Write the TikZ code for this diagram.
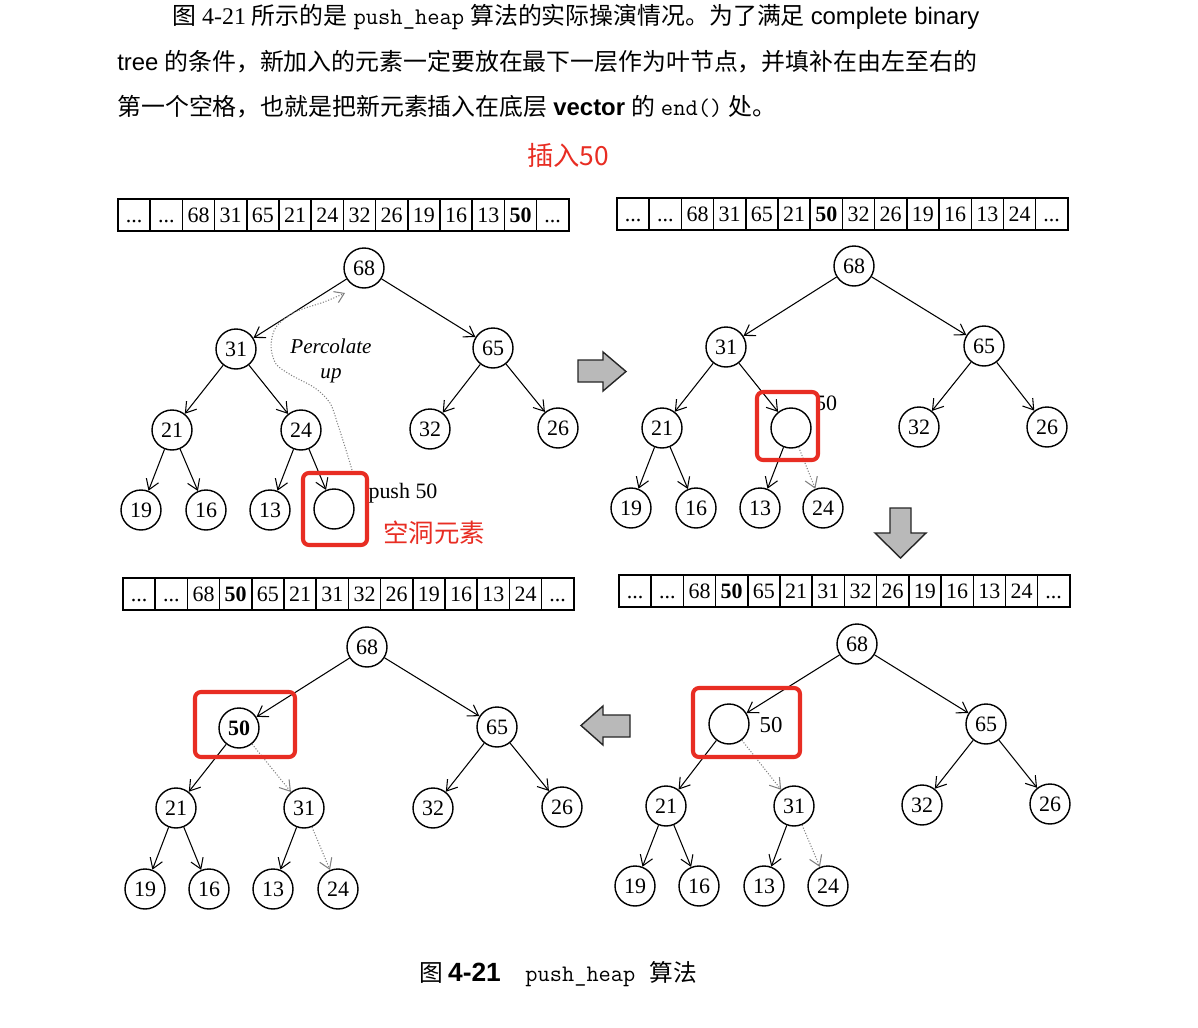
\documentclass[tikz,border=0pt]{standalone}
\usepackage{fontspec}
\setmainfont{Liberation Serif}
\setsansfont{Liberation Sans}
\newfontfamily\cjk{Noto Sans CJK SC}
\usetikzlibrary{arrows.meta,positioning}
\definecolor{markred}{RGB}{232,45,35}
\newcommand{\skipcell}{...}

\begin{document}
\begin{tikzpicture}[x=0.02cm,y=-0.02cm]
  \tikzset{heapnode/.style = {shape=circle,draw,line width=0.8pt,minimum size=0.8cm,inner sep=0pt,font=\fontsize{12.5}{12.5}\selectfont}}
  \tikzset{cell/.style = {draw,line width=0.8pt,minimum width=0.644cm,minimum height=0.64cm,inner sep=0pt,text height=8.6pt,text depth=0.4pt,font=\fontsize{12.5}{12.5}\selectfont}}
  \tikzset{edge/.style = {-{Straight Barb[length=2mm,width=2.6mm]},line width=0.6pt}}
  \tikzset{moveedge/.style = {edge,gray,densely dotted}}
  \tikzset{redbox/.style = {draw=markred,line width=2.3pt,rounded corners=0.12cm}}
  \tikzset{bigarrow/.style = {draw=black!85,line width=0.8pt,fill=gray!55}}
  \tikzset{textline/.style = {anchor=west,inner sep=0pt,font=\fontsize{13.6}{16}\selectfont}}

  \fill[white] (0,0) rectangle (1198,1028);
  \useasboundingbox (0,0) rectangle (1198,1028);

  % paragraph above the figure
  \node[textline] (line1) at (172,17) {{\cjk 图} 4-21 {\cjk 所示的是} \texttt{push\_heap} {\cjk 算法的实际操演情况。为了满足} \textsf{complete binary}};
  \node[textline] (line2) at (117,62) {\textsf{tree} {\cjk 的条件，新加入的元素一定要放在最下一层作为叶节点，并填补在由左至右的}};
  \node[textline] (line3) at (117,107) {{\cjk 第一个空格，也就是把新元素插入在底层} \textsf{\textbf{vector}} {\cjk 的} \texttt{end()} {\cjk 处。}};

  \node[text=markred,font=\cjk\fontsize{15}{15}\selectfont] (insert) at (568,155) {插入50};

  % the four vectors
  \foreach \v [count=\k] in {\skipcell,\skipcell,68,31,65,21,24,32,26,19,16,13,\textbf{50},\skipcell}
    \node[cell] (va\k) at (118+32.2*\k-16.1,215) {\v};
  \foreach \v [count=\k] in {\skipcell,\skipcell,68,31,65,21,\textbf{50},32,26,19,16,13,24,\skipcell}
    \node[cell] (vb\k) at (617+32.2*\k-16.1,214) {\v};
  \foreach \v [count=\k] in {\skipcell,\skipcell,68,\textbf{50},65,21,31,32,26,19,16,13,24,\skipcell}
    \node[cell] (vc\k) at (123+32.2*\k-16.1,594) {\v};
  \foreach \v [count=\k] in {\skipcell,\skipcell,68,\textbf{50},65,21,31,32,26,19,16,13,24,\skipcell}
    \node[cell] (vd\k) at (619+32.2*\k-16.1,591) {\v};

  % tree 1: new element at the end
  \begin{scope}[shift={(364,268)}]
    \foreach \i/\x/\y/\v in {0/0/0/68, 1/-128/81/31, 2/129/80/65, 3/-192/162/21, 4/-63/162/24, 5/66/161/32, 6/194/160/26, 7/-223/242/19, 8/-158/242/16, 9/-94/242/13, 10/-30/241/{}}
      \node[heapnode] (a\i) at (\x,\y) {\v};
  \end{scope}
  \foreach \from/\to in {0/1,0/2,1/3,1/4,2/5,2/6,3/7,3/8,4/9,4/10}
    \draw[edge] (a\from) -- (a\to);
  \node[font=\fontsize{12.5}{12.5}\selectfont] (push) at (403,493) {push 50};
  \node[font=\itshape\fontsize{12}{14.7}\selectfont,align=center] (perc) at (331,361) {Percolate\\up};
  \coordinate (percstart) at (352,470);
  \draw[gray,densely dotted,line width=0.6pt,-{Straight Barb[length=1.8mm,width=2.4mm]}] plot[smooth] coordinates {(percstart) (346,450) (338,425) (330,403) (315,388) (291,375) (276,364) (271,346) (276,327) (295,312) (324,302) (345,293)};
  \draw[redbox] (303,473) rectangle (367,545);
  \node[text=markred,font=\cjk\fontsize{14.5}{14.5}\selectfont] (holetext) at (434,533) {空洞元素};

  \draw[bigarrow] (578,360) -- (603,360) -- (603,352) -- (626,371.5) -- (603,391) -- (603,382) -- (578,382) -- cycle;

  % tree 2: hole moved up one level
  \begin{scope}[shift={(854,266)}]
    \foreach \i/\x/\y/\v in {0/0/0/68, 1/-128/81/31, 2/130/80/65, 3/-192/162/21, 4/-63/162/{}, 5/65/161/32, 6/193/161/26, 7/-223/242/19, 8/-158/242/16, 9/-94/242/13, 10/-31/242/24}
      \node[heapnode] (b\i) at (\x,\y) {\v};
  \end{scope}
  \foreach \from/\to in {0/1,0/2,1/3,1/4,2/5,2/6,3/7,3/8,4/9}
    \draw[edge] (b\from) -- (b\to);
  \draw[moveedge] (b4) -- (b10);
  \node[font=\fontsize{12.5}{12.5}\selectfont] (valb) at (826,403) {50};
  \draw[redbox] (757,392) rectangle (818,460);

  \draw[bigarrow] (890,508) -- (911,508) -- (911,533) -- (926,533) -- (900.5,558) -- (875,533) -- (890,533) -- cycle;

  % tree 3: hole moved up again
  \begin{scope}[shift={(857,644)}]
    \foreach \i/\x/\y/\v in {0/0/0/68, 1/-128/80/{}, 2/129/80/65, 3/-191/162/21, 4/-63/162/31, 5/65/161/32, 6/193/160/26, 7/-222/242/19, 8/-158/242/16, 9/-93/242/13, 10/-29/242/24}
      \node[heapnode] (d\i) at (\x,\y) {\v};
  \end{scope}
  \foreach \from/\to in {0/1,0/2,1/3,2/5,2/6,3/7,3/8,4/9}
    \draw[edge] (d\from) -- (d\to);
  \foreach \from/\to in {1/4,4/10}
    \draw[moveedge] (d\from) -- (d\to);
  \node[font=\fontsize{13}{13}\selectfont] (vald) at (771,725) {50};
  \draw[redbox] (693,688) rectangle (800,757);

  \draw[bigarrow] (630,715) -- (603,715) -- (603,706) -- (581,725.5) -- (603,745) -- (603,737) -- (630,737) -- cycle;

  % tree 4: 50 in place
  \begin{scope}[shift={(367,647)}]
    \foreach \i/\x/\y/\v in {0/0/0/68, 1/-128/81/\textbf{50}, 2/130/80/65, 3/-191/161/21, 4/-63/161/31, 5/66/161/32, 6/195/160/26, 7/-222/242/19, 8/-158/242/16, 9/-94/242/13, 10/-29/242/24}
      \node[heapnode] (c\i) at (\x,\y) {\v};
  \end{scope}
  \foreach \from/\to in {0/1,0/2,1/3,2/5,2/6,3/7,3/8,4/9}
    \draw[edge] (c\from) -- (c\to);
  \foreach \from/\to in {1/4,4/10}
    \draw[moveedge] (c\from) -- (c\to);
  \draw[redbox] (195,692) rectangle (295,757);

  \node (caption) at (558,974) {{\cjk\fontsize{13.5}{14}\selectfont 图}\hspace{3pt}\textsf{\textbf{\fontsize{15}{15}\selectfont 4-21}}\hspace{14pt}{\ttfamily\fontsize{13.5}{14}\selectfont push\_heap}\hspace{8pt}{\cjk\fontsize{13.5}{14}\selectfont 算法}};
\end{tikzpicture}
\end{document}
